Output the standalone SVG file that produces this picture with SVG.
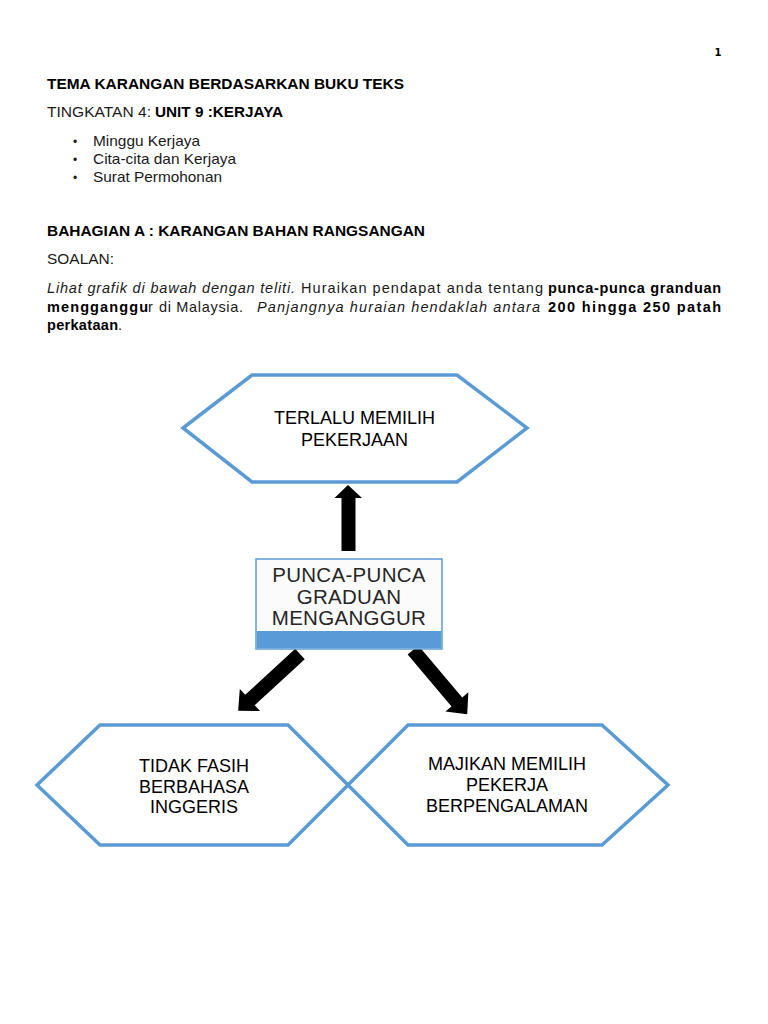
<svg xmlns="http://www.w3.org/2000/svg" width="768" height="1024" viewBox="0 0 768 1024">
<style>
.t{font-family:"Liberation Sans",Arial,sans-serif;font-size:14.5px;fill:#1a1a1a}
.b{font-weight:bold;fill:#000}
.i{font-style:italic}
.hex{fill:#fff;stroke:#5B9BD5;stroke-width:3.5;stroke-linejoin:miter}
.lbl{font-family:"Liberation Sans",Arial,sans-serif;font-size:18px;fill:#000;text-anchor:middle}
.ctr{font-family:"Liberation Sans",Arial,sans-serif;font-size:20.5px;fill:#262626;text-anchor:middle;letter-spacing:0.3px}
.arr{fill:#000}
</style>
<rect width="768" height="1024" fill="#fff"/>
<text x="718" y="56" style="font-family:'DejaVu Sans',sans-serif;font-size:10px;font-weight:bold" text-anchor="middle">1</text>
<text class="t b" x="47" y="89" textLength="357" lengthAdjust="spacingAndGlyphs">TEMA KARANGAN BERDASARKAN BUKU TEKS</text>
<text class="t" y="117"><tspan x="47" textLength="104" lengthAdjust="spacingAndGlyphs">TINGKATAN 4:</tspan><tspan x="155" class="b" textLength="128" lengthAdjust="spacingAndGlyphs">UNIT 9 :KERJAYA</tspan></text>
<text class="t" x="73" y="146" style="font-size:12px">•</text>
<text class="t" x="73" y="164" style="font-size:12px">•</text>
<text class="t" x="73" y="182" style="font-size:12px">•</text>
<text class="t" x="93" y="146" textLength="107" lengthAdjust="spacingAndGlyphs">Minggu Kerjaya</text>
<text class="t" x="93" y="164" textLength="143" lengthAdjust="spacingAndGlyphs">Cita-cita dan Kerjaya</text>
<text class="t" x="93" y="182" textLength="129" lengthAdjust="spacingAndGlyphs">Surat Permohonan</text>
<text class="t b" x="47" y="236" textLength="378" lengthAdjust="spacingAndGlyphs">BAHAGIAN A : KARANGAN BAHAN RANGSANGAN</text>
<text class="t" x="47" y="264" textLength="67" lengthAdjust="spacingAndGlyphs">SOALAN:</text>
<text class="t" y="293"><tspan x="47" class="i" textLength="248" lengthAdjust="spacing">Lihat grafik di bawah dengan teliti.</tspan><tspan x="301" textLength="242" lengthAdjust="spacing">Huraikan pendapat anda tentang</tspan><tspan x="548" class="b" textLength="173" lengthAdjust="spacing">punca-punca granduan</tspan></text>
<text class="t" y="312"><tspan x="47" class="b" textLength="101" lengthAdjust="spacing">mengganggu</tspan><tspan x="148">r</tspan><tspan x="159" textLength="84" lengthAdjust="spacing">di Malaysia.</tspan><tspan x="257" class="i" textLength="283" lengthAdjust="spacing">Panjangnya huraian hendaklah antara</tspan><tspan x="548" class="b" textLength="173" lengthAdjust="spacing">200 hingga 250 patah</tspan></text>
<text class="t" y="330"><tspan x="47" class="b" textLength="71" lengthAdjust="spacing">perkataan</tspan><tspan x="118">.</tspan></text>
<g id="connectors">
<polygon class="arr" points="348,485 362,498 355.5,498 355.5,551 341.5,551 341.5,498 334.5,498"/>
<polygon class="arr" transform="translate(300,654) rotate(137.4)" points="0,-7 68,-7 68,-15 84,0 68,15 68,7 0,7"/>
<polygon class="arr" transform="translate(413,650) rotate(49.8)" points="0,-7 68,-7 68,-15 84,0 68,15 68,7 0,7"/>
</g>
<g id="node-top">
<polygon class="hex" points="183,428 252,375 457,375 527,428 457,482 252,482"/>
<text class="lbl" x="354.5" y="424">TERLALU MEMILIH</text>
<text class="lbl" x="354.5" y="446">PEKERJAAN</text>
</g>
<g id="node-center">
<rect x="256" y="559" width="186" height="90" fill="#fbfbfb" stroke="#5B9BD5" stroke-width="1.5"/>
<rect x="256.75" y="631" width="184.5" height="17.25" fill="#5B9BD5"/>
<text class="ctr" x="349" y="582">PUNCA-PUNCA</text>
<text class="ctr" x="349" y="603.5">GRADUAN</text>
<text class="ctr" x="349" y="624.5">MENGANGGUR</text>
</g>
<g id="node-left">
<polygon class="hex" points="37,785 100,725 288,725 348,785 288,845 100,845"/>
<text class="lbl" x="194" y="772">TIDAK FASIH</text>
<text class="lbl" x="194" y="793">BERBAHASA</text>
<text class="lbl" x="194" y="813">INGGERIS</text>
</g>
<g id="node-right">
<polygon class="hex" points="348,785 408,725 602,725 668,785 602,845 408,845"/>
<text class="lbl" x="507" y="770">MAJIKAN MEMILIH</text>
<text class="lbl" x="507" y="791">PEKERJA</text>
<text class="lbl" x="507" y="812">BERPENGALAMAN</text>
</g>
</svg>
